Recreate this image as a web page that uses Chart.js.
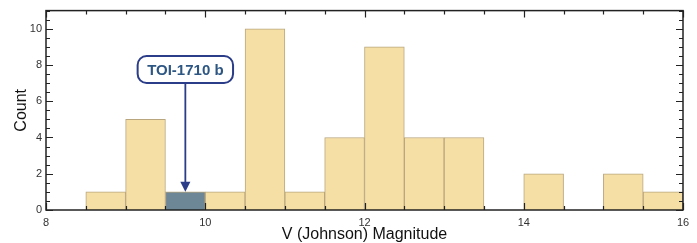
<!DOCTYPE html>
<html>
<head>
<meta charset="utf-8">
<script src="https://cdn.jsdelivr.net/npm/chart.js@4"></script>
<style>
    html, body { margin: 0; padding: 0; background: #fff; }
    #wrap { width: 697px; height: 243px; position: relative; }
</style>
</head>
<body>
<div id="wrap"><canvas id="hist"></canvas></div>
<script>
// Histogram of V magnitudes, 0.5 mag bins
const binCenters = [8.25, 8.75, 9.25, 9.75, 10.25, 10.75, 11.25, 11.75,
                    12.25, 12.75, 13.25, 13.75, 14.25, 14.75, 15.25, 15.75];
const counts = [0, 1, 5, 1, 1, 10, 1, 4, 9, 4, 4, 0, 2, 0, 2, 1];
const highlightBin = 9.75;
const highlightLabel = 'TOI-1710 b';
const xTickLabels = [8, 10, 12, 14, 16];
const yTickLabels = [0, 2, 4, 6, 8, 10];

const FILL = '#F6DFA4';
const EDGE = '#B9A67F';
const HIGHLIGHT = '#6D8796';
const FONT = "'Liberation Sans', Arial, sans-serif";

// inward ticks on all four sides plus the frame
const frameTicks = {
    id: 'frameTicks',
    afterDraw(chart) {
        const { ctx, chartArea: a, scales: { x, y } } = chart;
        ctx.save();
        ctx.strokeStyle = '#222';
        ctx.lineWidth = 1.5;
        ctx.strokeRect(a.left, a.top, a.right - a.left, a.bottom - a.top);
        ctx.lineWidth = 1.2;
        ctx.beginPath();
        for (let v = 8; v <= 16.001; v += 0.5) {
            const px = Math.round(x.getPixelForValue(v)) + 0.5;
            const len = (v % 2 === 0) ? 7 : 4;
            ctx.moveTo(px, a.bottom); ctx.lineTo(px, a.bottom - len);
            ctx.moveTo(px, a.top); ctx.lineTo(px, a.top + len);
        }
        for (let v = 0; v <= 11.001; v += 0.5) {
            const py = Math.round(y.getPixelForValue(v)) + 0.5;
            const len = (v % 2 === 0) ? 7 : 4;
            ctx.moveTo(a.left, py); ctx.lineTo(a.left + len, py);
            ctx.moveTo(a.right, py); ctx.lineTo(a.right - len, py);
        }
        ctx.stroke();
        ctx.restore();
    }
};

// callout box with arrow pointing at the highlighted bin
const callout = {
    id: 'callout',
    afterDatasetsDraw(chart) {
        const { ctx, scales: { x, y } } = chart;
        const idx = binCenters.indexOf(highlightBin);
        const cx = x.getPixelForValue(highlightBin);
        const tipY = y.getPixelForValue(counts[idx]);
        const boxCy = y.getPixelForValue(7.75);
        ctx.save();
        ctx.font = 'bold 15px ' + FONT;
        const w = ctx.measureText(highlightLabel).width + 19;
        const h = 27;
        const bx = cx - w / 2, by = boxCy - h / 2;

        // arrow shaft + head
        ctx.strokeStyle = '#2B3C88';
        ctx.fillStyle = '#2B3C88';
        ctx.lineWidth = 1.8;
        ctx.beginPath();
        ctx.moveTo(cx, by + h);
        ctx.lineTo(cx, tipY - 8);
        ctx.stroke();
        ctx.beginPath();
        ctx.moveTo(cx, tipY);
        ctx.lineTo(cx - 5, tipY - 10);
        ctx.lineTo(cx + 5, tipY - 10);
        ctx.closePath();
        ctx.fill();

        // box
        ctx.fillStyle = '#fff';
        ctx.lineWidth = 2;
        ctx.beginPath();
        ctx.roundRect(bx, by, w, h, 9);
        ctx.fill();
        ctx.stroke();

        ctx.fillStyle = '#2D5683';
        ctx.textAlign = 'center';
        ctx.textBaseline = 'middle';
        ctx.fillText(highlightLabel, cx, boxCy + 1);
        ctx.restore();
    }
};

const ctx = document.getElementById('hist').getContext('2d');
new Chart(ctx, {
    type: 'bar',
    data: {
        datasets: [{
            data: binCenters.map((c, i) => ({ x: c, y: counts[i] })),
            backgroundColor: binCenters.map(c => c === highlightBin ? HIGHLIGHT : FILL),
            borderColor: EDGE,
            borderWidth: 1,
            borderSkipped: 'start',
            barPercentage: 1,
            categoryPercentage: 1
        }]
    },
    options: {
        animation: false,
        responsive: true,
        maintainAspectRatio: false,
        layout: { padding: { top: 9, right: 14, left: 0, bottom: 0 } },
        plugins: {
            legend: { display: false },
            tooltip: { enabled: false },
            title: { display: false }
        },
        scales: {
            x: {
                type: 'linear',
                offset: false,
                min: 8,
                max: 16,
                afterFit: s => { s.height = 33; },
                afterBuildTicks: s => { s.ticks = xTickLabels.map(v => ({ value: v })); },
                grid: { display: false, drawTicks: false },
                border: { display: false },
                ticks: {
                    color: '#333',
                    padding: 6,
                    maxRotation: 0,
                    font: { family: FONT, size: 11 }
                },
                title: {
                    display: true,
                    text: 'V (Johnson) Magnitude',
                    color: '#111',
                    padding: { top: 0, bottom: 0 },
                    font: { family: FONT, size: 16, lineHeight: 1 }
                }
            },
            y: {
                min: 0,
                max: 11,
                afterFit: s => { s.width = 46; },
                afterBuildTicks: s => { s.ticks = yTickLabels.map(v => ({ value: v })); },
                grid: { display: false, drawTicks: false },
                border: { display: false },
                ticks: {
                    color: '#333',
                    padding: 4,
                    font: { family: FONT, size: 11 }
                },
                title: {
                    display: true,
                    text: 'Count',
                    color: '#111',
                    padding: { top: 14, bottom: 0 },
                    font: { family: FONT, size: 16, lineHeight: 1 }
                }
            }
        }
    },
    plugins: [frameTicks, callout]
});
</script>
</body>
</html>
